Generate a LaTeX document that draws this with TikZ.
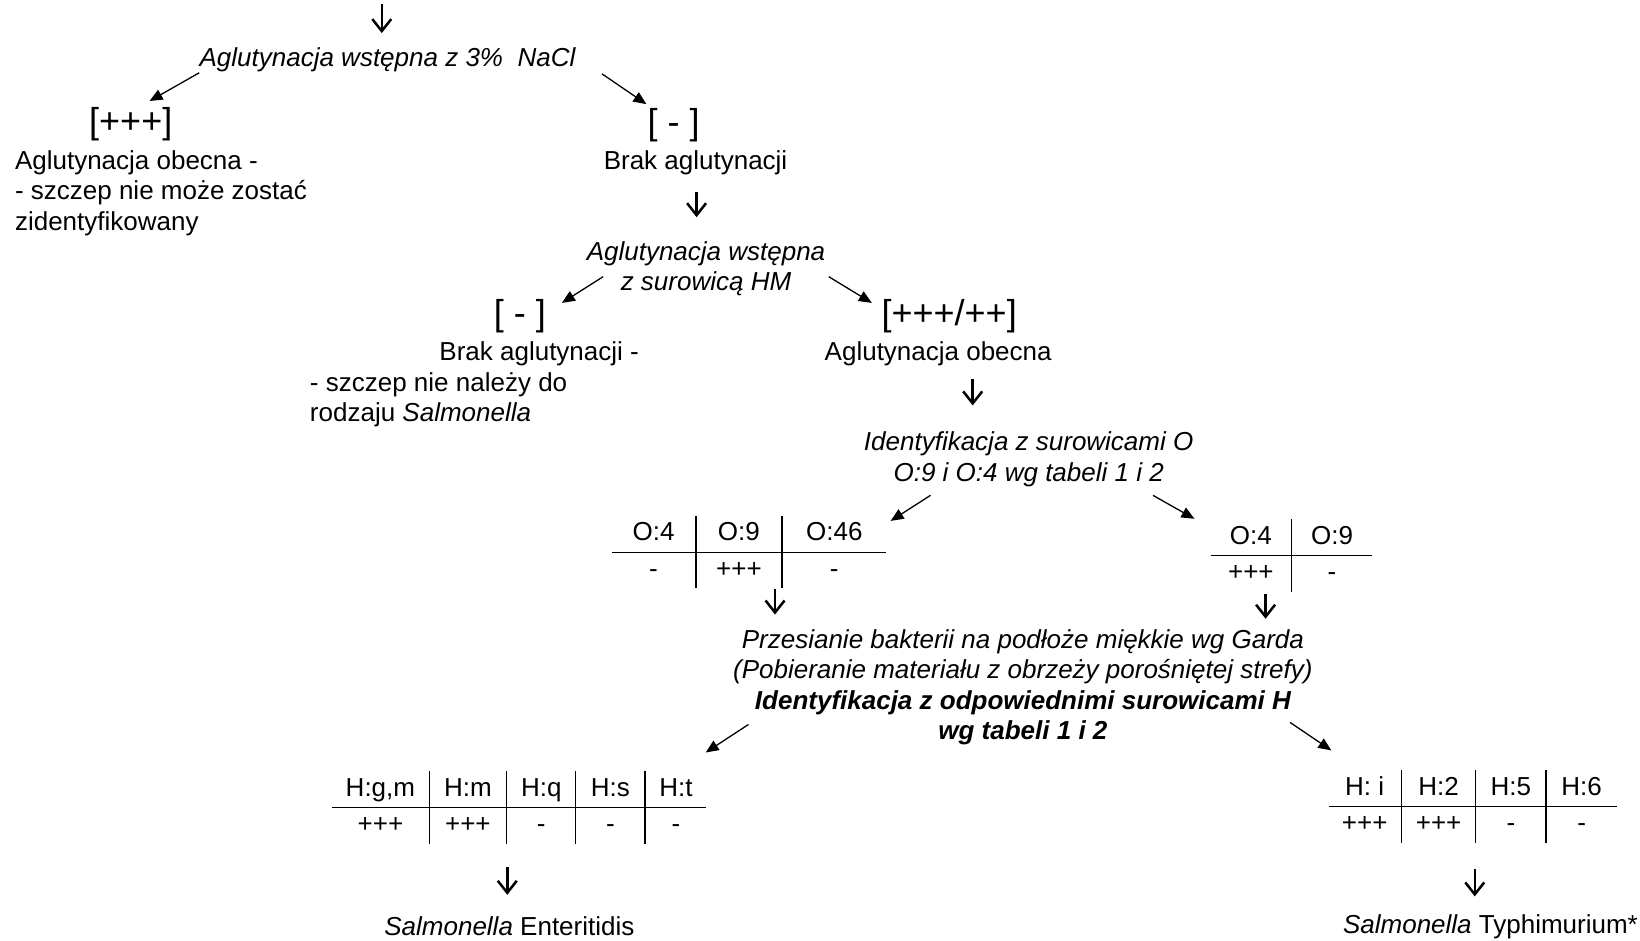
\documentclass[tikz,border=0pt]{standalone}
\usepackage{fontspec}
\setmainfont{Liberation Sans}
\usepackage{array}
\usepackage{tikz}
\usetikzlibrary{arrows.meta}
\newlength\pxu
\setlength\pxu{0.523pt}
\newcolumntype{C}[1]{>{\centering\arraybackslash}p{#1}}
\setlength\tabcolsep{0pt}
\setlength\arrayrulewidth{0.6pt}
\renewcommand\arraystretch{1.17}

\begin{document}
\begin{tikzpicture}[x=0.523pt,y=-0.523pt,
lbl/.style={inner sep=0pt,font=\fontsize{13}{15.2}\selectfont},
ital/.style={inner sep=0pt,font=\fontsize{13}{15.2}\selectfont\itshape,align=center},
res/.style={inner sep=0pt,font=\fontsize{18}{20}\selectfont},
tbl/.style={inner sep=0pt,font=\fontsize{13}{15.2}\selectfont},
diag/.style={-{Triangle[length=6.5pt,width=5.5pt]},line width=0.65pt},
down/.style={-{Straight Barb[length=6pt,width=9.5pt]},line width=1.25pt}]
\useasboundingbox (0,0) rectangle (1568,899);
\coordinate (src) at (365,4);
\node[ital] (nacl) at (370.5,57.6) {Aglutynacja wstępna z 3\%\ \ NaCl};
\node[res] (plus3) at (125,119) {[+++]};
\node[lbl,anchor=west,align=left] (obecna1) at (14,184.6) {Aglutynacja obecna -\\- szczep nie może zostać\\zidentyfikowany};
\node[res] (minus1) at (644,120) {[ - ]};
\node[lbl] (brak1) at (665,155.6) {Brak aglutynacji};
\node[ital] (hm) at (675,257.1) {Aglutynacja wstępna\\z surowicą HM};
\node[res] (minus2) at (497,302) {[ - ]};
\node[lbl] (brak2) at (515.5,338.6) {Brak aglutynacji -};
\node[lbl,anchor=west,align=left] (nalezy) at (296,382.1) {- szczep nie należy do\\rodzaju \textit{Salmonella}};
\node[res] (plus4) at (907.5,302) {[+++/++]};
\node[lbl] (obecna2) at (897,338.6) {Aglutynacja obecna};
\node[ital] (idO) at (983.5,439.1) {Identyfikacja z surowicami O\\O:9 i O:4 wg tabeli 1 i 2};
\node[tbl] (tO1) at (716,528) {\begin{tabular}{C{80\pxu}|C{81\pxu}|C{99\pxu}}O:4&O:9&O:46\\\hline -&+++&-\end{tabular}};
\node[tbl] (tO2) at (1234.5,531) {\begin{tabular}{C{77\pxu}|C{76\pxu}}O:4&O:9\\\hline +++&-\end{tabular}};
\node[ital] (garda) at (978,657.1) {Przesianie bakterii na podłoże miękkie wg Garda\\(Pobieranie materiału z obrzeży porośniętej strefy)\\\textbf{Identyfikacja z odpowiednimi surowicami H}\\\textbf{wg tabeli 1 i 2}};
\node[tbl] (tH1) at (496.5,772) {\begin{tabular}{C{92\pxu}|C{73\pxu}|C{65\pxu}|C{65\pxu}|C{58\pxu}}H:g,m&H:m&H:q&H:s&H:t\\\hline +++&+++&-&-&-\end{tabular}};
\node[tbl] (tH2) at (1408,771) {\begin{tabular}{C{69\pxu}|C{70\pxu}|C{66\pxu}|C{67\pxu}}H: i&H:2&H:5&H:6\\\hline +++&+++&-&-\end{tabular}};
\node[lbl] (ent) at (487,886) {\textit{Salmonella} Enteritidis};
\node[lbl] (typh) at (1425,886) {\textit{Salmonella} Typhimurium*};
\draw[down] (src) -- ([shift={(-5.5,-14)}]nacl.north);
\draw[diag] (nacl.south west) -- ([shift={(18,-6)}]plus3.north);
\draw[diag] ([shift={(25,1)}]nacl.south east) -- ([shift={(-26,-4)}]minus1.north);
\draw[down] ([shift={(1,16)}]brak1.south) -- ([shift={(-9,-23)}]hm.north);
\draw[diag] ([shift={(16,-19)}]hm.south west) -- ([shift={(15,4)}]minus2.north east);
\draw[diag] ([shift={(3,-19)}]hm.south east) -- ([shift={(-9,4)}]plus4.north west);
\draw[down] ([shift={(33,12)}]obecna2.south) -- ([shift={(-53.5,-25)}]idO.north);
\draw[diag] ([shift={(64,8)}]idO.south west) -- ([shift={(4,5)}]tO1.north east);
\draw[diag] ([shift={(-39,8)}]idO.south east) -- ([shift={(-15,0)}]tO2.north west);
\draw[down] ([shift={(25,0)}]tO1.south) -- ([shift={(-237,-14)}]garda.north);
\draw[down] ([shift={(-24.5,2)}]tO2.south) -- ([shift={(232,-10)}]garda.north);
\draw[diag] ([shift={(15,-20)}]garda.south west) -- ([shift={(-1,-17.6)}]tH1.north east);
\draw[diag] ([shift={(-22,-22)}]garda.south east) -- ([shift={(3,-18.6)}]tH2.north west);
\draw[down] ([shift={(-11.5,22)}]tH1.south) -- ([shift={(-2,-21)}]ent.north);
\draw[down] ([shift={(2,25)}]tH2.south) -- ([shift={(-15,-17)}]typh.north);
\end{tikzpicture}
\end{document}
